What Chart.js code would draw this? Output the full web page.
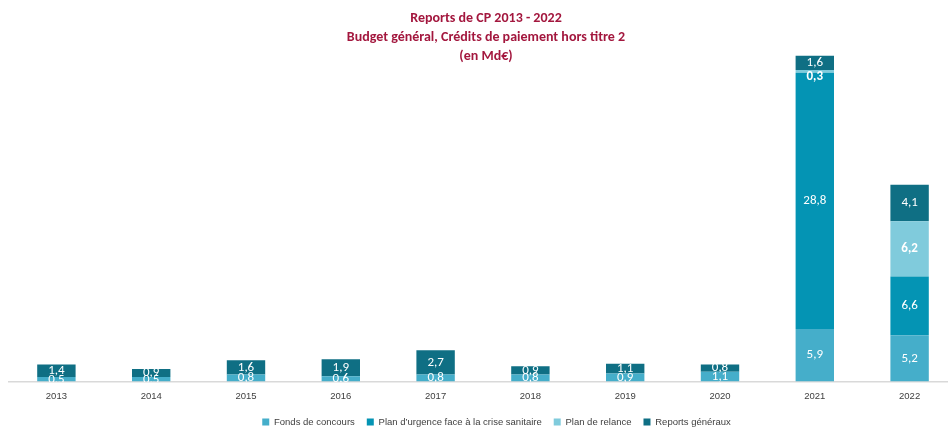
<!DOCTYPE html>
<html>
<head>
<meta charset="utf-8">
<script src="https://cdn.jsdelivr.net/npm/chart.js@4/dist/chart.umd.min.js"></script>
<style>
  html, body { margin: 0; padding: 0; background: #ffffff; overflow: hidden; width: 948px; height: 428px; }
  #wrap { position: relative; width: 984px; height: 428px; }
  #title {
    position: absolute; left: 0; top: 8px; width: 972px; text-align: center;
    font-family: Carlito, Lato, "Open Sans", sans-serif; font-weight: bold; font-size: 14px;
    line-height: 19px; color: #A3173E; pointer-events: none;
  }
  canvas { display: block; }
</style>
</head>
<body>
<div id="wrap">
  <canvas id="c" width="984" height="428"></canvas>
  <div id="title">Reports de CP 2013 - 2022<br>Budget général, Crédits de paiement hors titre 2<br>(en Md€)</div>
</div>
<script>
const years = ['2013','2014','2015','2016','2017','2018','2019','2020','2021','2022'];
const fondsDeConcours = [0.5, 0.5, 0.8, 0.6, 0.8, 0.8, 0.9, 1.1, 5.9, 5.2];
const planUrgence     = [null, null, null, null, null, null, null, null, 28.8, 6.6];
const planRelance     = [null, null, null, null, null, null, null, null, 0.3, 6.2];
const reportsGeneraux = [1.4, 0.9, 1.6, 1.9, 2.7, 0.9, 1.1, 0.8, 1.6, 4.1];
const seriesNames = ['Fonds de concours', "Plan d’urgence face à la crise sanitaire", 'Plan de relance', 'Reports généraux'];
const seriesColors = ['#45AECA', '#0494B4', '#80CBDC', '#0F6F84'];
const yMax = 40;

const labelFont = 'Carlito, Lato, "Open Sans", sans-serif';
const axisFont = '"Liberation Sans", Arial, sans-serif';

const barLabels = {
  id: 'barLabels',
  afterDatasetsDraw(chart) {
    const ctx = chart.ctx;
    const area = chart.chartArea;
    ctx.save();
    ctx.beginPath();
    ctx.rect(area.left, area.top - 40, area.right - area.left, area.bottom - area.top + 40.5);
    ctx.clip();
    ctx.fillStyle = '#ffffff';
    ctx.textAlign = 'center';
    ctx.textBaseline = 'middle';
    chart.data.datasets.forEach((ds, di) => {
      const meta = chart.getDatasetMeta(di);
      const isRelance = di === 2;
      ctx.font = (isRelance ? 'bold ' : '') + '13px ' + labelFont;
      meta.data.forEach((el, i) => {
        const v = ds.data[i];
        if (v === null || v === undefined) return;
        let y = (el.y + el.base) / 2;
        if (isRelance && Math.abs(el.base - el.y) < 6) y = el.base + 4;
        ctx.fillText(v.toFixed(1).replace('.', ','), el.x, y);
      });
    });
    ctx.restore();
  }
};

const datasets = [fondsDeConcours, planUrgence, planRelance, reportsGeneraux].map((d, i) => ({
  label: seriesNames[i],
  data: d,
  backgroundColor: seriesColors[i],
  borderWidth: 0,
  barPercentage: 0.405,
  categoryPercentage: 1.0,
  stack: 's'
}));

new Chart(document.getElementById('c'), {
  type: 'bar',
  data: { labels: years, datasets },
  options: {
    responsive: false,
    animation: false,
    layout: { padding: { top: 25.5, left: 9, right: 0, bottom: 0 } },
    plugins: {
      title: { display: false },
      tooltip: { enabled: false },
      legend: {
        position: 'bottom',
        maxHeight: 22.75,
        labels: {
          boxWidth: 7, boxHeight: 7, padding: 12,
          color: '#404040',
          font: { family: axisFont, size: 9.5 }
        }
      }
    },
    scales: {
      x: {
        stacked: true,
        grid: { display: false, drawTicks: false },
        border: { display: true, color: '#D9D9D9', width: 1.5 },
        ticks: { display: true, color: '#404040', padding: 9.5, font: { family: axisFont, size: 9.5 }, maxRotation: 0, autoSkip: false },
        afterFit(s) { s.height = 23.75; }
      },
      y: {
        stacked: true,
        display: false,
        min: 0, max: yMax
      },
      yR: {
        position: 'right',
        display: true,
        grid: { display: false },
        border: { display: false },
        ticks: { display: false },
        afterFit(s) { s.width = 27; }
      }
    }
  },
  plugins: [barLabels]
});
</script>
</body>
</html>
